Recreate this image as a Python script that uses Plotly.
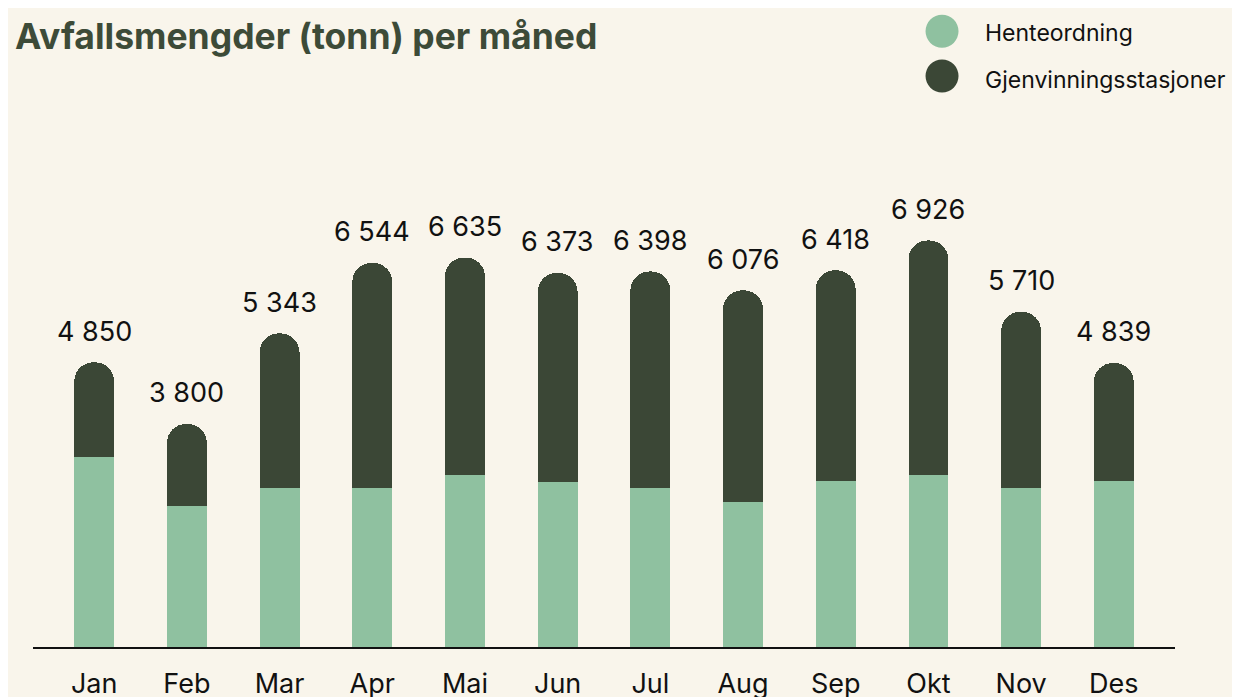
import plotly.graph_objects as go

months = ["Jan", "Feb", "Mar", "Apr", "Mai", "Jun", "Jul", "Aug", "Sep", "Okt", "Nov", "Des"]
totals = [4850, 3800, 5343, 6544, 6635, 6373, 6398, 6076, 6418, 6926, 5710, 4839]
henteordning = [3240, 2400, 2710, 2710, 2925, 2805, 2710, 2465, 2825, 2930, 2710, 2825]
gjenvinning = [t - h for t, h in zip(totals, henteordning)]
total_labels = ["4 850", "3 800", "5 343", "6 544", "6 635", "6 373", "6 398", "6 076", "6 418", "6 926", "5 710", "4 839"]

LIGHT = "#8fc1a0"
DARK = "#3b4736"
BG = "#f9f5eb"
TITLE_C = "#3d4b38"
FONT = "Inter"

# page has an 8px body margin; figure is sized to fill the rest of the window
W, H = 1232, 689

fig = go.Figure()
fig.add_trace(go.Bar(x=months, y=henteordning, name="Henteordning",
                     marker=dict(color=LIGHT, line=dict(width=0)), width=0.43))
fig.add_trace(go.Bar(x=months, y=gjenvinning, name="Gjenvinningsstasjoner",
                     marker=dict(color=DARK, line=dict(width=0)), width=0.43))

for m, t, lab in zip(months, totals, total_labels):
    fig.add_annotation(x=m, y=t, text=lab, showarrow=False, xref="x", yref="y",
                       yanchor="middle", yshift=31,
                       font=dict(family=FONT, size=27, color="#111111"))

# custom legend
legend_items = [("Henteordning", LIGHT, 1.083, 1.086), ("Gjenvinningsstasjoner", DARK, 1.0, 1.007)]
for name, col, ytxt, ycirc in legend_items:
    fig.add_shape(type="circle", xref="paper", yref="paper",
                  xsizemode="pixel", ysizemode="pixel",
                  xanchor=0.796, yanchor=ycirc, x0=-16.5, x1=16.5, y0=-16.5, y1=16.5,
                  fillcolor=col, line=dict(width=0))
    fig.add_annotation(x=0.832, y=ytxt, xref="paper", yref="paper", text=name,
                       showarrow=False, xanchor="left", yanchor="middle",
                       font=dict(family=FONT, size=23, color="#111111"))

fig.update_layout(
    barmode="stack",
    barcornerradius="50%",
    width=W, height=H,
    paper_bgcolor=BG, plot_bgcolor=BG,
    margin=dict(l=25, r=65, t=72, b=50, autoexpand=False),
    showlegend=False,
    title=dict(text="<b>Avfallsmengder (tonn) per måned</b>", x=7/W, xanchor="left",
               xref="container", yref="container", y=1 - 29/H, yanchor="middle",
               font=dict(family=FONT, size=35.5, color=TITLE_C)),
    xaxis=dict(range=[-0.66, 11.66], showline=True, linecolor="#111111", linewidth=1.5,
               showgrid=False, ticks="", ticklabelstandoff=12, automargin=False,
               tickfont=dict(family=FONT, size=27, color="#111111")),
    yaxis=dict(range=[0, 9659], visible=False, showgrid=False, zeroline=False, automargin=False),
)

fig.write_html("out.html")
